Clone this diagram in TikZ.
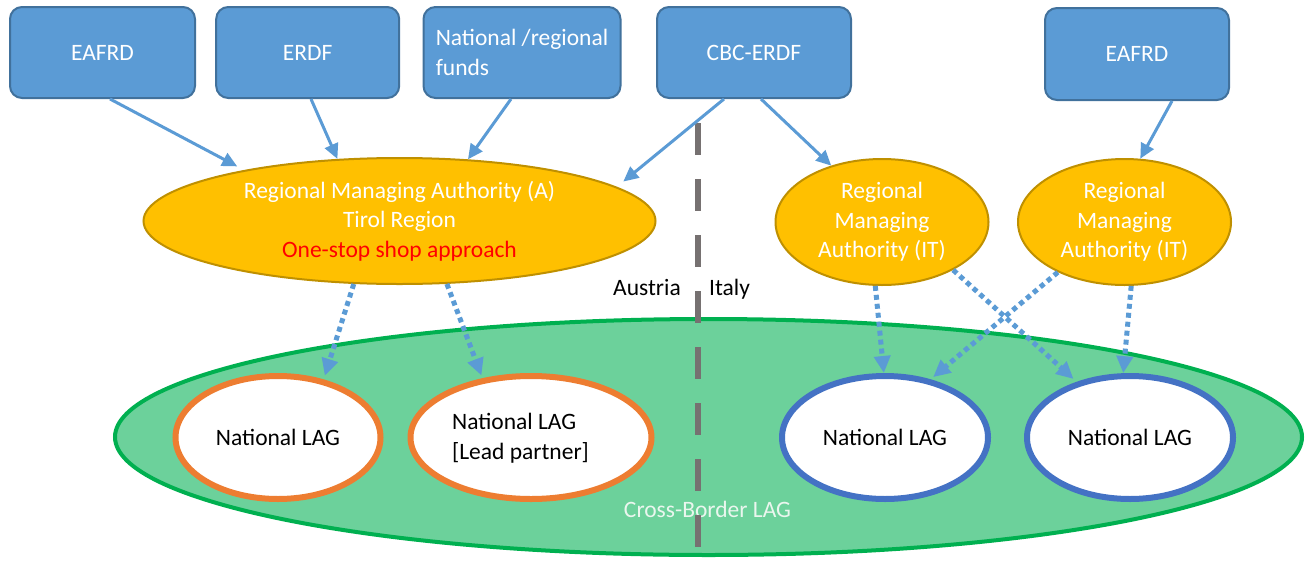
\documentclass[tikz,border=0pt]{standalone}
\usepackage{fontspec}
\setmainfont{Carlito}
\usetikzlibrary{shapes.geometric,arrows.meta,calc}
\definecolor{boxfill}{HTML}{5B9BD5}
\definecolor{boxline}{HTML}{41719C}
\definecolor{orfill}{HTML}{FFC000}
\definecolor{orline}{HTML}{BF9000}
\definecolor{cbfill}{HTML}{6CD19B}
\definecolor{cbline}{HTML}{00B050}
\definecolor{lagor}{HTML}{ED7D31}
\definecolor{lagbl}{HTML}{4472C4}
\definecolor{arrowblue}{HTML}{5B9BD5}
\definecolor{bordergray}{HTML}{767171}
\definecolor{cbtext}{HTML}{EAF6EE}
\definecolor{redtext}{HTML}{FF0000}
\begin{document}
\begin{tikzpicture}[x=1pt,y=-1pt,
  font=\fontsize{23.5}{29.5}\selectfont,
  fundbox/.style={draw=boxline, fill=boxfill, line width=2pt, rounded corners=12pt,
    minimum height=91pt, inner sep=0pt, text=white, align=center},
  rmaell/.style={ellipse, draw=orline, fill=orfill, line width=2pt, inner sep=0pt,
    text=white, align=center, minimum height=126pt},
  lagell/.style={ellipse, fill=white, line width=6pt, inner sep=0pt, minimum height=123pt},
  flow/.style={draw=arrowblue, line width=3pt, -{Triangle[length=15pt,width=14pt]}},
  dotflow/.style={draw=arrowblue, line width=5pt, dash pattern=on 5pt off 4pt,
    -{Triangle[length=17pt,width=16pt]}},
  borderline/.style={draw=bordergray, line width=6pt, dash pattern=on 32pt off 24pt}
]
\useasboundingbox (0,0) rectangle (1307,560);

% cross-border LAG
\node[ellipse, draw=cbline, fill=cbfill, line width=4pt, inner sep=0pt,
  minimum width=1187pt, minimum height=236pt] (cb) at (708.5,437) {};
\node[text=cbtext] (cbl) at (707.5,509) {Cross-Border LAG};

% national LAGs
\node[lagell, draw=lagor, minimum width=205pt] (l1) at (278,437.5) {National LAG};
\node[lagell, draw=lagor, minimum width=241pt] (l2) at (531,437.5) {};
\node[align=left, inner sep=0pt] (l2t) at (520.5,438) {National LAG\\{[}Lead partner]};
\node[lagell, draw=lagbl, minimum width=206pt] (r1) at (885,437.5) {National LAG};
\node[lagell, draw=lagbl, minimum width=206pt] (r2) at (1130,437.5) {National LAG};

% border
\coordinate (dtop) at (698,123);
\coordinate (dbot) at (698,547);
\draw[borderline] (dtop) -- (dbot);
\node (aut) at (647,287) {Austria};
\node (ita) at (729.5,289) {Italy};

% managing authorities
\node[rmaell, minimum width=512pt] (rma) at (399.5,221)
  {Regional Managing Authority (A)\\Tirol Region\\\textcolor{redtext}{One-stop shop approach}};
\node[rmaell, minimum width=213pt] (rit1) at (882,222) {Regional\\Managing\\Authority (IT)};
\node[rmaell, minimum width=213pt] (rit2) at (1124.5,222) {Regional\\Managing\\Authority (IT)};

% funds
\node[fundbox, minimum width=185pt] (b1) at (102.5,52.5) {EAFRD};
\node[fundbox, minimum width=183pt] (b2) at (307.7,52.5) {ERDF};
\node[fundbox, minimum width=197pt, align=left] (b3) at (522,52.5) {National /regional\\funds};
\node[fundbox, minimum width=194pt] (b4) at (754,52.5) {CBC-ERDF};
\node[fundbox, minimum width=184pt, minimum height=92pt] (b5) at (1137,54) {EAFRD};

% solid arrows
\draw[flow] ([xshift=7.5pt]b1.south) -- ([yshift=5pt]rma.163);
\draw[flow] ([xshift=3.3pt]b2.south) -- (rma.135.6);
\draw[flow] ([xshift=-11pt]b3.south) -- (rma.42.5);
\draw[flow] ([xshift=-30pt]b4.south) -- ([yshift=8pt]rma.8.9);
\draw[flow] ([xshift=7pt]b4.south) -- (rit1.132);
\draw[flow] ([xshift=35pt]b5.south) -- (rit2.76);

% dotted arrows
\draw[dotflow] (rma.234.3) -- ([yshift=4pt]l1.51.6);
\draw[dotflow] (rma.307.6) -- ([yshift=3pt]l2.130.6);
\draw[dotflow] (rit1.264.5) -- (r1.91.8);
\draw[dotflow] (rit1.326.6) -- ([yshift=4pt]r2.136.3);
\draw[dotflow] (rit2.217.1) -- ([yshift=3pt]r1.50.1);
\draw[dotflow] (rit2.276.7) -- (r2.96.2);
\end{tikzpicture}
\end{document}
